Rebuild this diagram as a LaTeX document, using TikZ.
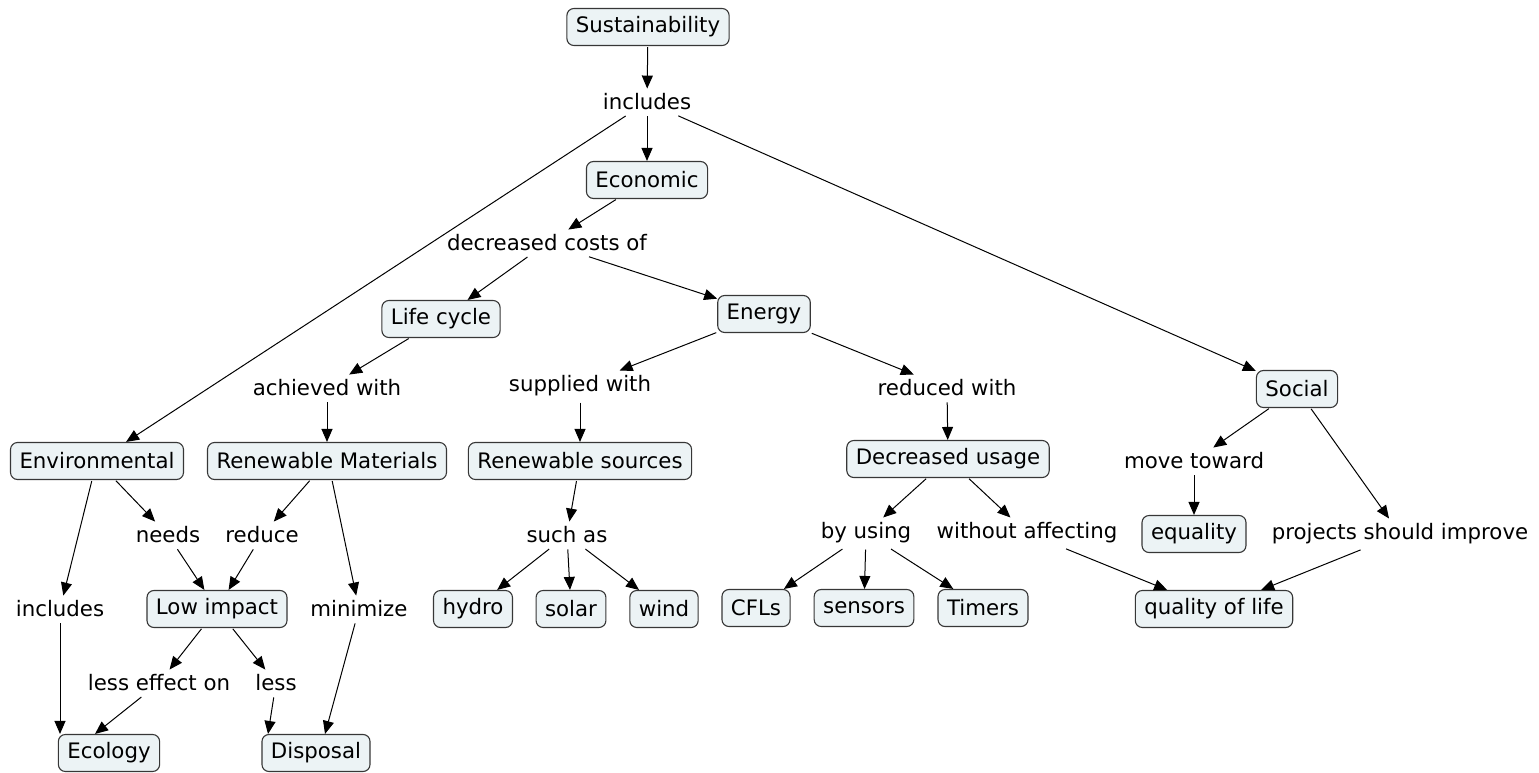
\documentclass[tikz,border=0pt]{standalone}
\usepackage{fontspec}
\setmainfont{DejaVu Sans}
\usetikzlibrary{arrows.meta}
\definecolor{cmapfill}{RGB}{236,243,245}
\definecolor{cmapline}{RGB}{55,55,55}

\begin{document}
\begin{tikzpicture}[x=1pt,y=-1pt,font=\fontsize{21.3}{24}\selectfont]
        \tikzstyle{concept}=[draw=cmapline,fill=cmapfill,rounded corners=7pt,line width=1.1pt,inner xsep=9pt,inner ysep=0pt,minimum height=37pt]
        \tikzstyle{phrase}=[inner xsep=3pt,inner ysep=5pt]
        \tikzstyle{link}=[-{Triangle[length=13pt,width=11pt]},line width=1pt,shorten <=1pt]
        \useasboundingbox (0,0) rectangle (1539,773);
        % concepts
        \node[concept] (sust) at (648,27) {Sustainability};
        \node[concept] (econ) at (647,180) {Economic};
        \node[concept] (life) at (441,319) {Life cycle};
        \node[concept] (energy) at (764,314) {Energy};
        \node[concept] (social) at (1297,389) {Social};
        \node[concept] (env) at (97,461) {Environmental};
        \node[concept] (renmat) at (327,461) {Renewable Materials};
        \node[concept] (rensrc) at (580,461) {Renewable sources};
        \node[concept] (decusage) at (948,459) {Decreased usage};
        \node[concept] (equality) at (1194,534) {equality};
        \node[concept] (lowimp) at (217,609) {Low impact};
        \node[concept] (hydro) at (473,609) {hydro};
        \node[concept] (solar) at (571,609) {solar};
        \node[concept] (wind) at (664,609) {wind};
        \node[concept] (cfls) at (756,608) {CFLs};
        \node[concept] (sensors) at (864,608) {sensors};
        \node[concept] (timers) at (983,608) {Timers};
        \node[concept] (quality) at (1214,609) {quality of life};
        \node[concept] (ecology) at (109,753) {Ecology};
        \node[concept] (disposal) at (316,753) {Disposal};
        % linking phrases
        \node[phrase] (includesA) at (647,102) {includes};
        \node[phrase] (deccost) at (547,243) {decreased costs of};
        \node[phrase] (achieved) at (327,388) {achieved with};
        \node[phrase] (supplied) at (580,386) {supplied with};
        \node[phrase] (reduced) at (947,388) {reduced with};
        \node[phrase] (movetow) at (1194,461) {move toward};
        \node[phrase] (projects) at (1400,534) {projects should improve};
        \node[phrase] (needs) at (168,535) {needs};
        \node[phrase] (reduce) at (262,535) {reduce};
        \node[phrase] (suchas) at (567,535) {such as};
        \node[phrase] (byusing) at (866,533) {by using};
        \node[phrase] (without) at (1027,533) {without affecting};
        \node[phrase] (includesB) at (60,609) {includes};
        \node[phrase] (minimize) at (359,609) {minimize};
        \node[phrase] (lesseff) at (159,683) {less effect on};
        \node[phrase] (less) at (276,683) {less};
        % connectors
        \draw[link] (sust) -- (includesA);
        \draw[link] (includesA) -- (econ);
        \draw[link] (includesA) -- (env);
        \draw[link] (includesA) -- (social);
        \draw[link] (econ) -- (deccost);
        \draw[link] (deccost) -- (life);
        \draw[link] (deccost) -- (energy);
        \draw[link] (life) -- (achieved);
        \draw[link] (achieved) -- (renmat);
        \draw[link] (energy) -- (supplied);
        \draw[link] (supplied) -- (rensrc);
        \draw[link] (energy) -- (reduced);
        \draw[link] (reduced) -- (decusage);
        \draw[link] (rensrc) -- (suchas);
        \draw[link] (suchas) -- (hydro);
        \draw[link] (suchas) -- (solar);
        \draw[link] (suchas) -- (wind);
        \draw[link] (decusage) -- (byusing);
        \draw[link] (byusing) -- (cfls);
        \draw[link] (byusing) -- (sensors);
        \draw[link] (byusing) -- (timers);
        \draw[link] (decusage) -- (without);
        \draw[link] (without) -- (quality);
        \draw[link] (social) -- (movetow);
        \draw[link] (movetow) -- (equality);
        \draw[link] (social) -- (projects);
        \draw[link] (projects) -- (quality);
        \draw[link] ([xshift=-5pt]env.south) -- (includesB);
        \draw[link] (env) -- (needs);
        \draw[link] (needs) -- (lowimp);
        \draw[link] (includesB) -- (includesB |- ecology.north);
        \draw[link] (renmat) -- (reduce);
        \draw[link] (reduce) -- (lowimp);
        \draw[link] ([xshift=5pt]renmat.south) -- (minimize);
        \draw[link] (minimize) -- ([xshift=9pt]disposal.north);
        \draw[link] (lowimp) -- (lesseff);
        \draw[link] (lesseff) -- ([xshift=-14pt]ecology.north);
        \draw[link] (lowimp) -- (less);
        \draw[link] (less) -- ([xshift=-48pt]disposal.north);
\end{tikzpicture}
\end{document}
